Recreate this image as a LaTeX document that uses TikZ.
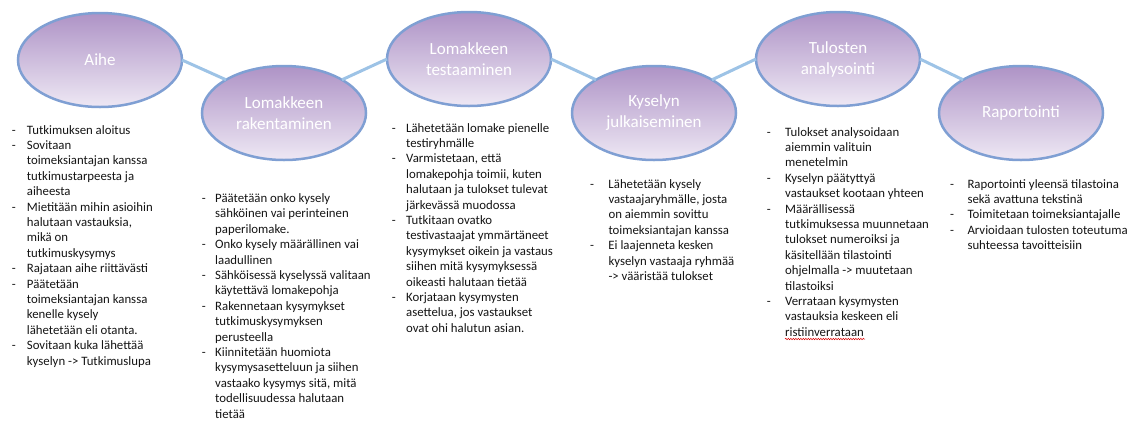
\documentclass[tikz,border=0pt]{standalone}
\usepackage{fontspec}
\setmainfont{Carlito}
\usetikzlibrary{shapes.geometric, calc, decorations.pathmorphing}

\definecolor{ellTop}{HTML}{AE93C6}
\definecolor{ellBot}{HTML}{EEE8F4}
\definecolor{ellLine}{HTML}{7F9FD3}
\definecolor{linkBlue}{HTML}{9DC3E6}
\definecolor{txtGray}{HTML}{141414}

% dash column + text column
\newcommand{\steplist}[2]{\begin{tabular}[t]{@{}p{#1}@{}l@{}}#2\end{tabular}}

\tikzset{
  phase/.style={ellipse, draw=ellLine, line width=2.5pt, top color=ellTop,
    bottom color=ellBot, minimum width=164pt, minimum height=94pt,
    inner sep=0pt, outer sep=0pt, text=white, align=center,
    font=\fontsize{17}{21}\selectfont},
  link/.style={draw=linkBlue, line width=3pt},
  notes/.style={anchor=base west, inner sep=0pt, text=txtGray,
    font=\fontsize{12.8}{15.4}\selectfont},
  spellwave/.style={draw=red!85!black, line width=0.5pt, decorate,
    decoration={snake, amplitude=0.7pt, segment length=2.5pt}},
}

\begin{document}
\begin{tikzpicture}[x=1pt, y=-1pt]
   \useasboundingbox (0,0) rectangle (1136,421);

   % Phases
   \node[phase] (aihe)     at (100,60)   {Aihe};
   \node[phase] (rakent)   at (284,113)  {Lomakkeen\\rakentaminen};
   \node[phase] (testaus)  at (469,59)   {Lomakkeen\\testaaminen};
   \node[phase] (julkaisu) at (654,113)  {Kyselyn\\julkaiseminen};
   \node[phase] (analyysi) at (838,59)   {Tulosten\\analysointi};
   \node[phase] (raportti) at (1021,113) {Raportointi};

   % Links between phases
   \draw[link] (aihe.east) -- (rakent.north west);
   \draw[link] (rakent.north east) -- (testaus.west);
   \draw[link] (testaus.east) -- (julkaisu.north west);
   \draw[link] (julkaisu.north east) -- (analyysi.west);
   \draw[link] (analyysi.east) -- (raportti.north west);

   % Notes under each phase
   \node[notes] (aiheTxt) at (11.7,134) {\steplist{15pt}{%
      - & Tutkimuksen aloitus\\
      - & Sovitaan\\
        & toimeksiantajan kanssa\\
        & tutkimustarpeesta ja\\
        & aiheesta\\
      - & Mietitään mihin asioihin\\
        & halutaan vastauksia,\\
        & mikä on\\
        & tutkimuskysymys\\
      - & Rajataan aihe riittävästi\\
      - & Päätetään\\
        & toimeksiantajan kanssa\\
        & kenelle kysely\\
        & lähetetään eli otanta.\\
      - & Sovitaan kuka lähettää\\
        & kyselyn -> Tutkimuslupa}};

   \node[notes] (rakentTxt) at (201.7,202.5) {\steplist{13.3pt}{%
      - & Päätetään onko kysely\\
        & sähköinen vai perinteinen\\
        & paperilomake.\\
      - & Onko kysely määrällinen vai\\
        & laadullinen\\
      - & Sähköisessä kyselyssä valitaan\\
        & käytettävä lomakepohja\\
      - & Rakennetaan kysymykset\\
        & tutkimuskysymyksen\\
        & perusteella\\
      - & Kiinnitetään huomiota\\
        & kysymysasetteluun ja siihen\\
        & vastaako kysymys sitä, mitä\\
        & todellisuudessa halutaan\\
        & tietää}};

   \node[notes] (testausTxt) at (391.7,132) {\steplist{14.3pt}{%
      - & Lähetetään lomake pienelle\\
        & testiryhmälle\\
      - & Varmistetaan, että\\
        & lomakepohja toimii, kuten\\
        & halutaan ja tulokset tulevat\\
        & järkevässä muodossa\\
      - & Tutkitaan ovatko\\
        & testivastaajat ymmärtäneet\\
        & kysymykset oikein ja vastaus\\
        & siihen mitä kysymyksessä\\
        & oikeasti halutaan tietää\\
      - & Korjataan kysymysten\\
        & asettelua, jos vastaukset\\
        & ovat ohi halutun asian.}};

   \node[notes] (julkaisuTxt) at (590,188) {\steplist{18.3pt}{%
      - & Lähetetään kysely\\
        & vastaajaryhmälle, josta\\
        & on aiemmin sovittu\\
        & toimeksiantajan kanssa\\
      - & Ei laajenneta kesken\\
        & kyselyn vastaaja ryhmää\\
        & -> vääristää tulokset}};

   \node[notes] (analyysiTxt) at (766.7,136) {\steplist{18.3pt}{%
      - & Tulokset analysoidaan\\
        & aiemmin valituin\\
        & menetelmin\\
      - & Kyselyn päätyttyä\\
        & vastaukset kootaan yhteen\\
      - & Määrällisessä\\
        & tutkimuksessa muunnetaan\\
        & tulokset numeroiksi ja\\
        & käsitellään tilastointi\\
        & ohjelmalla -> muutetaan\\
        & tilastoiksi\\
      - & Verrataan kysymysten\\
        & vastauksia keskeen eli\\
        & ristiinverrataan}};
   % spell-check underline
   \draw[spellwave] ($(analyysiTxt.south west)+(18.3,-2)$) -- ++(80,0);

   \node[notes] (raporttiTxt) at (950,188) {\steplist{17.3pt}{%
      - & Raportointi yleensä tilastoina\\
        & sekä avattuna tekstinä\\
      - & Toimitetaan toimeksiantajalle\\
      - & Arvioidaan tulosten toteutuma\\
        & suhteessa tavoitteisiin}};
\end{tikzpicture}
\end{document}
